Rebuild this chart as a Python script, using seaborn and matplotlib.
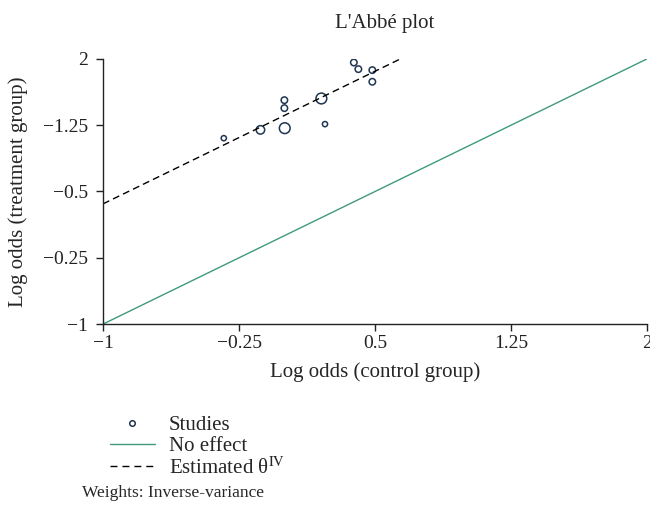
import seaborn as sns
import matplotlib.pyplot as plt
import pandas as pd
from matplotlib.lines import Line2D

# study log odds, weights ~ marker size
control = [-0.334, -0.132, 0.002, 0.0, 0.0, 0.204, 0.224, 0.383, 0.408, 0.485, 0.485]
treatment = [1.103, 1.197, 1.216, 1.443, 1.533, 1.552, 1.262, 1.959, 1.884, 1.873, 1.741]
weights = [1.0, 2.5, 4.0, 1.5, 1.5, 4.0, 1.0, 1.5, 1.5, 1.5, 1.5]

# reference lines
no_effect_x = [-1, 2]
no_effect_y = [-1, 2]
est_x = [-1, 0.64]
est_y = [0.36, 2.0]

tick_pos = [-1, -0.25, 0.5, 1.25, 2]
xtick_labels = ['\u22121', '\u22120.25', '0.5', '1.25', '2']
ytick_pos = [-1, -0.25, 0.5, 1.25, 2]
ytick_labels = ['\u22121', '\u22120.25', '\u22120.5', '\u22121.25', '2']

df = pd.DataFrame({'control': control, 'treatment': treatment, 'w': weights})

sns.set_style('ticks')
plt.rcParams['font.family'] = ['Liberation Serif', 'DejaVu Serif']
plt.rcParams['mathtext.fontset'] = 'stix'

navy = '#1f3552'
green = '#3f9a7c'

fig = plt.figure(figsize=(6.5, 5.12), dpi=100)
ax = fig.add_axes([0.1585, 0.367, 0.837, 0.518])

sns.lineplot(x=no_effect_x, y=no_effect_y, color=green, lw=1.0, ax=ax)
sns.lineplot(x=est_x, y=est_y, color='black', lw=1.0, ax=ax)
ax.lines[-1].set_dashes([5, 3])
sns.scatterplot(data=df, x='control', y='treatment', size='w', sizes=(14, 60),
                facecolor='none', edgecolor=navy, linewidth=1.1, legend=False, ax=ax)

ax.set_xlim(-1, 2)
ax.set_ylim(-1, 2)
ax.set_xticks(tick_pos)
ax.set_xticklabels(xtick_labels)
ax.set_yticks(ytick_pos)
ax.set_yticklabels(ytick_labels)
ax.tick_params(labelsize=14, length=5, width=1, colors='#222222', direction='out')
ax.tick_params(axis='x', pad=3)
ax.tick_params(axis='y', pad=6)
for s in ['left', 'bottom']:
    ax.spines[s].set_linewidth(1.0)
    ax.spines[s].set_color('#222222')
sns.despine(ax=ax)

ax.set_xlabel('Log odds (control group)', fontsize=15)
ax.set_ylabel('Log odds (treatment group)', fontsize=15)
ax.xaxis.set_label_coords(0.5, -0.143)
ax.yaxis.set_label_coords(-0.138, 0.5)
ax.set_title("L'Abbé plot", fontsize=15, pad=22, x=0.518)

handles = [
    Line2D([], [], ls='none', marker='o', ms=4, mfc='none', mec=navy, mew=1.1),
    Line2D([], [], color=green, lw=1.0),
    Line2D([], [], color='black', lw=1.0, dashes=[5, 3.6]),
]
labels = ['Studies', 'No effect', 'Estimated θ$^{\\mathrm{IV}}$']
fig.legend(handles, labels, loc='upper left', bbox_to_anchor=(0.169, 0.188),
           frameon=False, fontsize=15, handlelength=2.15, handletextpad=0.67,
           labelspacing=0.05, borderaxespad=0, borderpad=0)
fig.text(0.126, 0.03, 'Weights: Inverse-variance', fontsize=12.5)

fig.savefig('out.png', dpi=100)
